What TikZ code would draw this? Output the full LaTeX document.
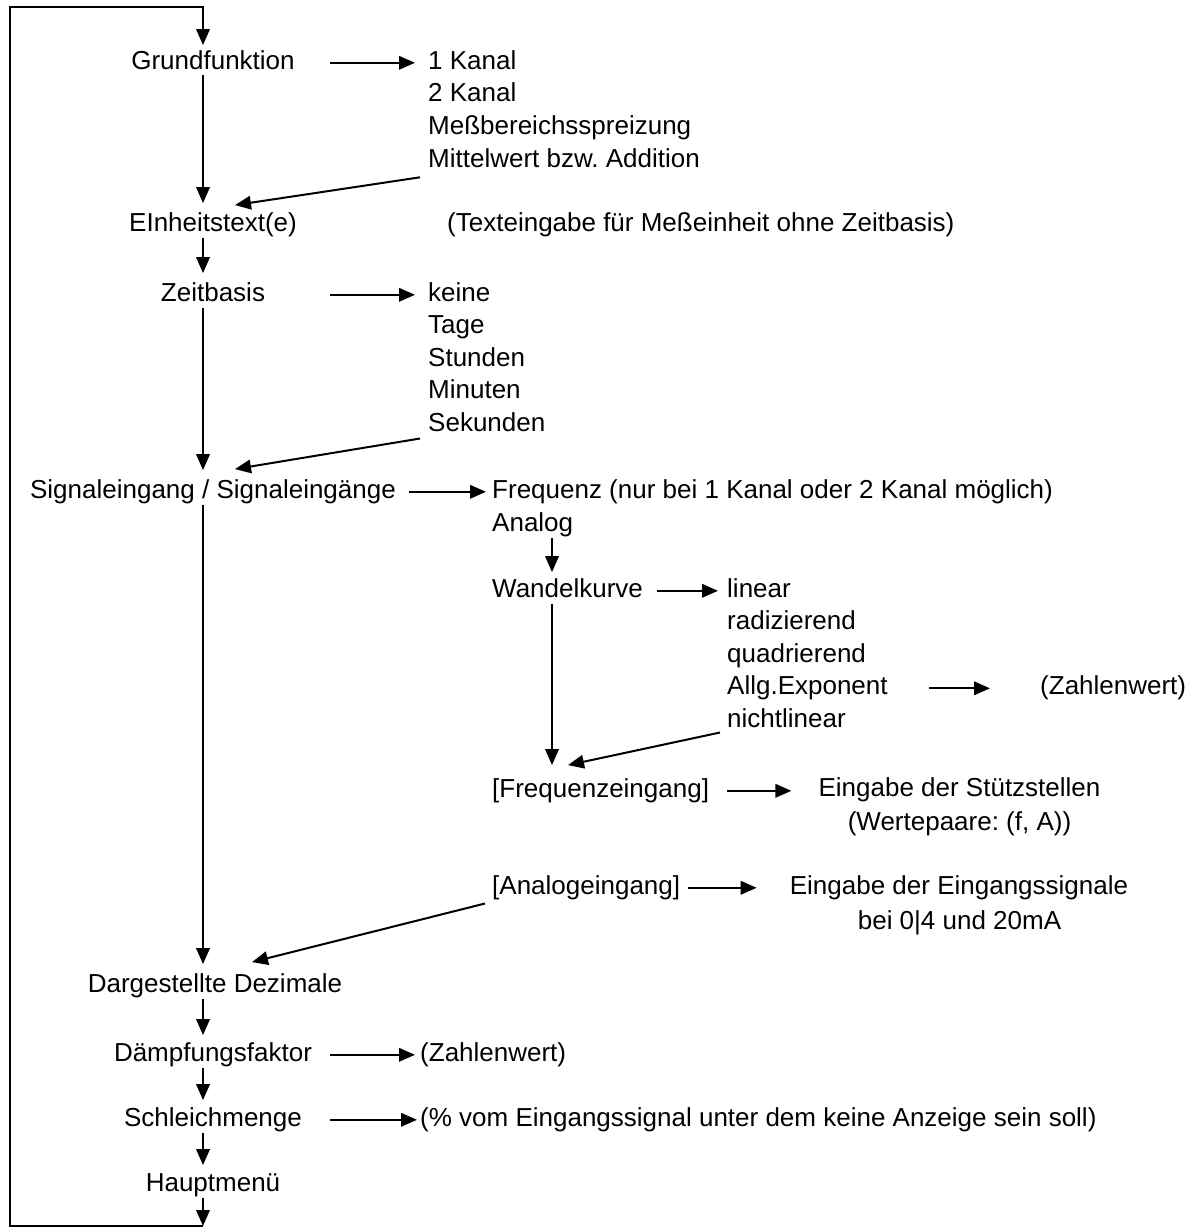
\documentclass[tikz,border=0pt]{standalone}
\usepackage{fontspec}
\setmainfont{Liberation Sans}
\usetikzlibrary{arrows.meta,calc}
\begin{document}
\frenchspacing
\begin{tikzpicture}[x=1pt,y=-1pt,
  every node/.style={font=\fontsize{26pt}{31pt}\selectfont, inner sep=0pt,
    text height=19pt, text depth=6pt},
  menuitem/.style={anchor=base},
  choice/.style={anchor=base west},
  link/.style={line width=2pt, line join=miter, -{Triangle[length=16pt,width=13.5pt]}},
  down/.style={link, shorten >=9pt}]
\useasboundingbox (0,0) rectangle (1199,1228);

% spines of the two vertical chains
\coordinate (spine) at (203,0);
\coordinate (acol) at (552,0);

% main menu column
\node[menuitem] (grund)  at (213,69.3)   {Grundfunktion};
\node[menuitem] (einh)   at (213,231.3)  {EInheitstext(e)};
\node[menuitem] (zeit)   at (213,301.3)  {Zeitbasis};
\node[menuitem] (sig)    at (213,498.3)  {Signaleingang / Signaleingänge};
\node[menuitem] (darg)   at (215,992.3)  {Dargestellte Dezimale};
\node[menuitem] (daempf) at (213,1061.3) {Dämpfungsfaktor};
\node[menuitem] (schl)   at (213,1126.3) {Schleichmenge};
\node[menuitem] (haupt)  at (213,1191.3) {Hauptmenü};

% Grundfunktion options
\node[choice] (k1) at (428,69.3)  {1 Kanal};
\node[choice] (k2) at (428,101.9) {2 Kanal};
\node[choice] (k3) at (428,134.5) {Meßbereichsspreizung};
\node[choice] (k4) at (428,167.1) {Mittelwert bzw. Addition};

\node[choice] (txt) at (447,231.3) {(Texteingabe für Meßeinheit ohne Zeitbasis)};

% Zeitbasis options
\node[choice] (z1) at (428,301.3) {keine};
\node[choice] (z2) at (428,333.8) {Tage};
\node[choice] (z3) at (428,366.3) {Stunden};
\node[choice] (z4) at (428,398.8) {Minuten};
\node[choice] (z5) at (428,431.3) {Sekunden};

% signal inputs
\node[choice] (freq)   at (492,498.3) {Frequenz (nur bei 1 Kanal oder 2 Kanal möglich)};
\node[choice] (analog) at (492,531.3) {Analog};
\node[choice] (wandel) at (492,597.3) {Wandelkurve};

% conversion curves
\node[choice] (w1) at (727,597.3) {linear};
\node[choice] (w2) at (727,629.8) {radizierend};
\node[choice] (w3) at (727,662.3) {quadrierend};
\node[choice] (w4) at (727,694.8) {Allg.Exponent};
\node[choice] (w5) at (727,727.3) {nichtlinear};
\node[choice] (zw1) at (1040,694.8) {(Zahlenwert)};

\node[choice] (fe) at (492,797.3) {[Frequenzeingang]};
\node[menuitem] (st1) at (959.5,796.3) {Eingabe der Stützstellen};
\node[menuitem] (st2) at (959.5,830.3) {(Wertepaare: (f, A))};

\node[choice] (ae) at (492,894.3) {[Analogeingang]};
\node[menuitem] (es1) at (959,894.3) {Eingabe der Eingangssignale};
\node[menuitem] (es2) at (959.5,929.3) {bei 0|4 und 20mA};

\node[choice] (zw2) at (420,1061.3) {(Zahlenwert)};
\node[choice] (pct) at (420,1126.3) {(\% vom Eingangssignal unter dem keine Anzeige sein soll)};

% loop back from the main menu
\coordinate (bot) at (203,1226);
\coordinate (loopbl) at (10,1226);
\coordinate (looptl) at (10,7);
\coordinate (looptop) at (203,7);

% vertical chain
\draw[down] (grund.south -| spine) -- (einh.north -| spine);
\draw[down] (einh.south -| spine) -- (zeit.north -| spine);
\draw[down] (zeit.south -| spine) -- (sig.north -| spine);
\draw[down] (sig.south -| spine) -- (darg.north -| spine);
\draw[down, shorten >=7pt] (darg.south -| spine) -- (daempf.north -| spine);
\draw[down, shorten >=7pt] (daempf.south -| spine) -- (schl.north -| spine);
\draw[down, shorten >=7pt] (schl.south -| spine) -- (haupt.north -| spine);
\draw[link] (haupt.south -| spine) -- (bot);
\draw[link, shorten >=5pt] (bot) -- (loopbl) -- (looptl) -- (looptop) -- (grund.north -| spine);

\draw[down, shorten >=6pt] (analog.south -| acol) -- (wandel.north -| acol);
\draw[down, shorten >=13pt] (wandel.south -| acol) -- (fe.north -| acol);

% horizontal branches, each kept level with its source item
\draw[link] ($(grund.east)+(35,0)$) -- ($(k1.west |- grund.east)+(-13,0)$);
\draw[link] ($(zeit.east)+(65,0)$) -- ($(z1.west |- zeit.east)+(-13,0)$);
\draw[link] ($(sig.east)+(13,0)$) -- ($(freq.west |- sig.east)+(-6,0)$);
\draw[link] ($(wandel.east)+(14,0)$) -- ($(w1.west |- wandel.east)+(-9,0)$);
\draw[link] ($(w4.east)+(41,0)$) -- ($(zw1.west |- w4.east)+(-50,0)$);
\draw[link] ($(fe.east)+(18,0)$) -- ($(st1.west |- fe.east)+(-27,0)$);
\draw[link] ($(ae.east)+(8,0)$) -- ($(es1.west |- ae.east)+(-33,0)$);
\draw[link] ($(daempf.east)+(18,0)$) -- ($(zw2.west |- daempf.east)+(-5,0)$);
\draw[link] ($(schl.east)+(28,0)$) -- ($(pct.west |- schl.east)+(-3,0)$);

% returns from the last option of each list
\draw[link] ($(k4.south west)+(-8,4)$) -- ($(einh.north)+(22,-7)$);
\draw[link] ($(z5.south west)+(-8,1)$) -- ($(sig.north)+(22,-10)$);
\draw[link] ($(w5.south west)+(-7,-1)$) -- ($(fe.north west)+(76,-13)$);
\draw[link] ($(ae.south west)+(-7,3)$) -- ($(darg.north)+(37,-11)$);
\end{tikzpicture}
\end{document}
